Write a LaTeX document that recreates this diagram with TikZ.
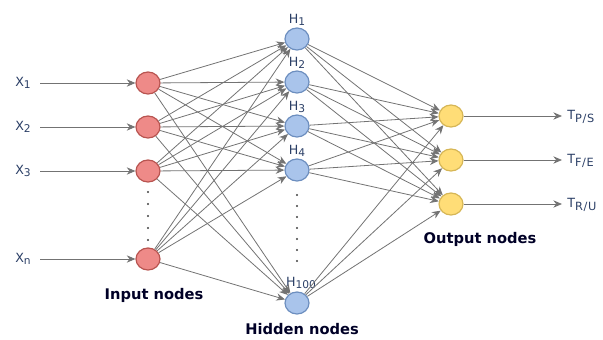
\documentclass[tikz,border=0pt]{standalone}
\usepackage{fontspec}
\setmainfont{DejaVu Sans}
\newfontfamily\boldlab{DejaVu Sans}
\usetikzlibrary{arrows.meta,shapes.geometric}
\definecolor{linegray}{HTML}{737373}
\definecolor{labblue}{HTML}{2B3F66}
\definecolor{infill}{HTML}{EE8A88}
\definecolor{inline}{HTML}{B85450}
\definecolor{hidfill}{HTML}{A9C4EB}
\definecolor{hidline}{HTML}{6C8EBF}
\definecolor{outfill}{HTML}{FFDD77}
\definecolor{outline}{HTML}{D6B656}
\newcommand{\sublab}[1]{\raisebox{-1.8pt}{\fontsize{8}{9}\selectfont #1}}
\newcommand{\wsublab}[1]{\raisebox{-1.8pt}{\fontsize{8.5}{9}\selectfont\addfontfeature{LetterSpace=6}#1}}
\tikzset{
  neuron/.style={ellipse, minimum width=18pt, minimum height=16.5pt, inner sep=0pt, line width=0.9pt},
  innode/.style={neuron, draw=inline, fill=infill},
  hidnode/.style={neuron, draw=hidline, fill=hidfill},
  outnode/.style={neuron, draw=outline, fill=outfill},
  conn/.style={draw=linegray, line width=0.6pt, -{Stealth[length=6.5pt,width=5.5pt]}},
  varlab/.style={font=\fontsize{9.5}{12}\selectfont, text=labblue, inner sep=0pt},
  grouplab/.style={font=\boldlab\bfseries\fontsize{11}{13}\selectfont, text=black!85!blue, inner sep=0pt},
  vdots/.style={fill=black!75, circle, inner sep=0pt, minimum size=1.6pt}
}
\begin{document}
\begin{tikzpicture}[x=0.75pt, y=-0.75pt]
\useasboundingbox (0,0) rectangle (603,339);
\clip (0,0) rectangle (603,339);

% input layer
\node[innode] (i1) at (148,83) {};
\node[innode] (i2) at (148,127) {};
\node[innode] (i3) at (148,171) {};
\node[innode] (in) at (148,259) {};

% hidden layer
\node[hidnode] (h1) at (297,39) {};
\node[hidnode] (h2) at (297,82) {};
\node[hidnode] (h3) at (297,126) {};
\node[hidnode] (h4) at (297,170) {};
\node[hidnode] (hk) at (297,303) {};

% output layer
\node[outnode] (o1) at (451,116) {};
\node[outnode] (o2) at (451,160) {};
\node[outnode] (o3) at (451,204) {};

% input labels and their arrows
\node[varlab] (x1) at (23,83) {X\sublab{1}};
\node[varlab] (x2) at (23,127) {X\sublab{2}};
\node[varlab] (x3) at (23,171) {X\sublab{3}};
\node[varlab] (xn) at (23,259) {X\sublab{n}};
\coordinate (s1) at (40,83);
\coordinate (s2) at (40,127);
\coordinate (s3) at (40,171);
\coordinate (sn) at (40,259);
\foreach \s/\t in {s1/i1, s2/i2, s3/i3, sn/in}
  \draw[conn] (\s) -- (\t);

% hidden labels
\node[varlab, anchor=south] (l1) at (297,26) {H\sublab{1}};
\node[varlab, anchor=south] (l2) at (297,69) {H\sublab{2}};
\node[varlab, anchor=south] (l3) at (297,113) {H\sublab{3}};
\node[varlab, anchor=south] (l4) at (297,157) {H\sublab{4}};
\node[varlab, anchor=south] (lk) at (301,289) {H\sublab{100}};

% input -> hidden
\foreach \a in {i1,i2,i3,in}
  \foreach \b in {h1,h2,h3,h4,hk}
    \draw[conn] (\a) -- (\b);

% hidden -> output
\foreach \a in {h1,h2,h3,h4,hk}
  \foreach \b in {o1,o2,o3}
    \draw[conn] (\a) -- (\b);

% output arrows and labels (they run past the right edge)
\coordinate (e1) at (562,116);
\coordinate (e2) at (562,160);
\coordinate (e3) at (562,204);
\foreach \s/\t in {o1/e1, o2/e2, o3/e3}
  \draw[conn] (\s) -- (\t);
\node[varlab, anchor=west] (t1) at (567,117) {T\wsublab{P/S}};
\node[varlab, anchor=west] (t2) at (567,161) {T\wsublab{F/E}};
\node[varlab, anchor=west] (t3) at (567,205) {T\wsublab{R/U}};

% ellipsis dots
\foreach \y in {192,204,216,228,240}
  \node[vdots] at (148,\y) {};
\foreach \y in {195,206,217,228,239,250,261}
  \node[vdots] at (297,\y) {};

% layer captions
\node[grouplab] (gin) at (154,295) {Input nodes};
\node[grouplab] (ghid) at (302,329) {Hidden nodes};
\node[grouplab] (gout) at (480,239) {Output nodes};
\end{tikzpicture}
\end{document}
